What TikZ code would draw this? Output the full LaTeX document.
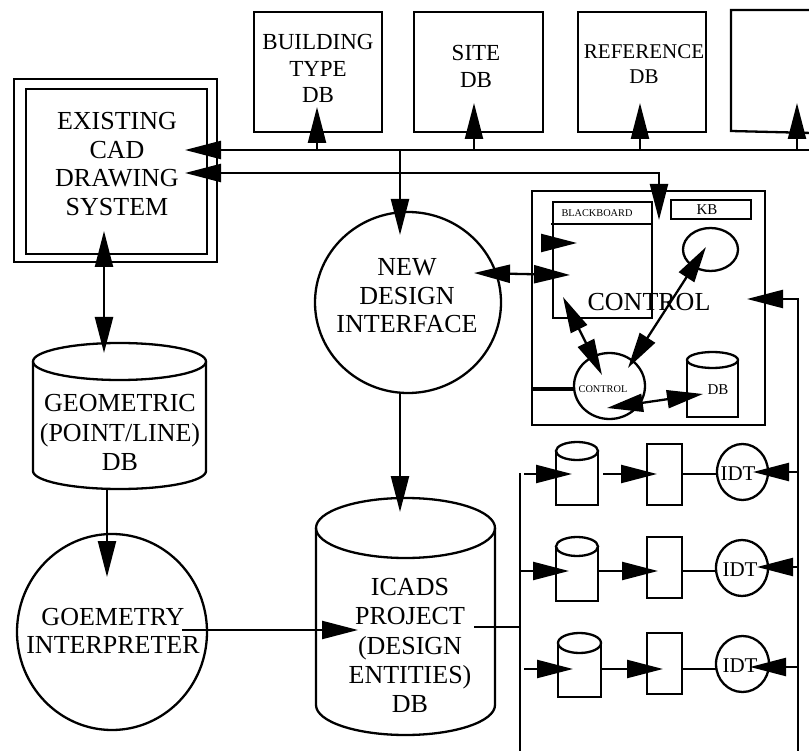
\documentclass[tikz,border=0pt]{standalone}
\usepackage{fontspec}
\setmainfont{Liberation Serif}
\usetikzlibrary{arrows.meta,shapes.geometric}
\newcommand\fsz[2]{\fontsize{#1}{#2}\selectfont}
\begin{document}
\begin{tikzpicture}[x=1pt,y=-1pt,line width=2.3pt,line join=miter,
  >={Triangle[length=36pt,width=18pt]},
  box/.style={draw,rectangle,inner sep=0pt,outer sep=0pt},
  oval/.style={draw,ellipse,inner sep=0pt,outer sep=0pt},
  lbl/.style={align=center,inner sep=0pt},
  bigf/.style={font=\fsz{26}{28.5}},
  midf/.style={font=\fsz{23}{26.7}},
  smlf/.style={font=\fsz{15}{17}},
  tinyf/.style={font=\fsz{10.3}{12}}]
\useasboundingbox (0,0) rectangle (809,751);

% ---------- top databases ----------
\node[box,minimum width=128pt,minimum height=120pt] (btdb) at (318,72) {};
\node[lbl,midf] (btdbT) at (318,68.5) {BUILDING\\TYPE\\DB};
\node[box,minimum width=129pt,minimum height=120pt] (sdb) at (478.5,72) {};
\node[lbl,midf] (sdbT) at (476,66.5) {SITE\\DB};
\node[box,minimum width=128pt,minimum height=120pt] (rdb) at (642,72) {};
\node[lbl,font=\fsz{21}{24.3}] (rdbT) at (644,64) {REFERENCE\\DB};
\draw (812,10) -- (731,10) -- (731,131) -- (812,133);

% ---------- existing CAD ----------
\node[box,minimum width=203pt,minimum height=183pt] (cadO) at (115.5,170.5) {};
\node[box,minimum width=181pt,minimum height=165pt] (cadI) at (116.5,171.5) {};
\node[lbl,bigf] (cadT) at (117,164) {EXISTING\\CAD\\DRAWING\\SYSTEM};

% ---------- buses ----------
\coordinate (busR) at (812,150);
\coordinate (busL) at (185,150);
\draw[->] (busR) -- (busL);
\coordinate (tb) at (317,107);
\coordinate (ts) at (474,103);
\coordinate (tr) at (640,103);
\coordinate (t4) at (797,103);
\draw[->] (tb |- busL) -- (tb);
\draw[->] (ts |- busL) -- (ts);
\draw[->] (tr |- busL) -- (tr);
\draw[->] (t4 |- busL) -- (t4);
\coordinate (b2L) at (185,173);
\coordinate (b2R) at (659,173);
\coordinate (b2T) at (659,220);
\draw[<->] (b2L) -- (b2R) -- (b2T);

% ---------- new design interface ----------
\node[oval,minimum width=186pt,minimum height=181pt] (ndi) at (408,302.5) {};
\node[lbl,bigf] (ndiT) at (407,296) {NEW\\DESIGN\\INTERFACE};
\coordinate (ndiIn) at (400,235);
\draw[->] (ndiIn |- busL) -- (ndiIn);

% ---------- control box ----------
\node[box,minimum width=233pt,minimum height=234pt] (ctl) at (648.5,308) {};
\node[lbl,bigf] (ctlT) at (649,302) {CONTROL};
\node[box,minimum width=99pt,minimum height=116pt] (bb) at (602.5,260) {};
\draw (551,224) -- (652,224);
\node[lbl,tinyf] (bbT) at (597,213) {BLACKBOARD};
\node[box,minimum width=80pt,minimum height=19pt] (kb) at (711,209.5) {};
\node[lbl,smlf] (kbT) at (707,209.5) {KB};
\node[oval,minimum width=55pt,minimum height=43pt] (kbc) at (710.5,249.5) {};
\node[oval,minimum width=71pt,minimum height=66pt] (cc) at (609.5,386) {};
\node[lbl,tinyf] (ccT) at (603,389) {CONTROL};
% control db cylinder
\draw (687,360) -- (687,417) -- (738,417) -- (738,360);
\draw (712.5,360) ellipse [x radius=25.5pt,y radius=8pt];
\node[lbl,smlf] (cdbT) at (718,390) {DB};

\coordinate (bbIn) at (577,243);
\coordinate (bbInS) at (542,243);
\draw[->] (bbInS) -- (bbIn);
\coordinate (ndiR) at (474,273);
\coordinate (bbL) at (570,275);
\draw[<->] (ndiR) -- (bbL);
\coordinate (bbB) at (563,297);
\coordinate (ccT1) at (602,375);
\draw[<->] (bbB) -- (ccT1);
\coordinate (kbcP) at (706,247);
\coordinate (ccT2) at (628,368);
\draw[<->] (kbcP) -- (ccT2);
\coordinate (ccB) at (607,408);
\coordinate (cdbP) at (703,394);
\draw[<->] (ccB) -- (cdbP);
\coordinate (ctlL) at (532,389);
\coordinate (ccL) at (574,389);
\draw[line width=4.5pt] (ctlL) -- (ccL);

% right vertical line
\coordinate (rvB) at (798,751);
\coordinate (rvT) at (798,299);
\coordinate (ctlIn) at (747,299);
\draw[->] (rvB) -- (rvT) -- (ctlIn);

% ---------- IDT rows ----------
\coordinate (lvT) at (520,473);
\coordinate (lvB) at (520,751);
\draw (lvT) -- (lvB);

% row 1
\draw (556,451) -- (556,505) -- (598,505) -- (598,451);
\draw (577,451) ellipse [x radius=21pt,y radius=9pt];
\node[box,minimum width=35pt,minimum height=61pt] (r1) at (664.5,474.5) {};
\node[oval,minimum width=51pt,minimum height=56pt] (i1) at (742.5,472) {};
\node[lbl,font=\fsz{21}{24}] (i1T) at (738,474) {IDT};
\coordinate (a1s) at (524,474); \coordinate (a1e) at (572,474);
\draw[->] (a1s) -- (a1e);
\coordinate (b1s) at (603,474); \coordinate (b1e) at (657,474);
\draw[->] (b1s) -- (b1e);
\draw (r1.east |- i1T) -- (i1.west |- i1T);
\coordinate (c1e) at (753,472);
\draw[->] (rvB |- c1e) -- (c1e);

% row 2
\draw (556,546.5) -- (556,601) -- (598,601) -- (598,546.5);
\draw (577,546.5) ellipse [x radius=21pt,y radius=9.5pt];
\node[box,minimum width=35pt,minimum height=61pt] (r2) at (664.5,567.5) {};
\node[oval,minimum width=52pt,minimum height=56pt] (i2) at (742,568) {};
\node[lbl,font=\fsz{21}{24}] (i2T) at (740,570) {IDT};
\coordinate (a2e) at (569,571);
\draw[->] (lvT |- a2e) -- (a2e);
\coordinate (b2s) at (598,571); \coordinate (b2e) at (658,571);
\draw[->] (b2s) -- (b2e);
\draw (r2.east |- b2e) -- (i2.west |- b2e);
\coordinate (c2e) at (757,567);
\draw[->] (rvB |- c2e) -- (c2e);

% row 3
\draw (558,643) -- (558,697) -- (601,697) -- (601,643);
\draw (579.5,643) ellipse [x radius=21.5pt,y radius=10pt];
\node[box,minimum width=35pt,minimum height=61pt] (r3) at (664.5,663.5) {};
\node[oval,minimum width=53pt,minimum height=56pt] (i3) at (742.5,664) {};
\node[lbl,font=\fsz{21}{24}] (i3T) at (740,666) {IDT};
\coordinate (a3s) at (524,669); \coordinate (a3e) at (573,669);
\draw[->] (a3s) -- (a3e);
\coordinate (b3s) at (601,669); \coordinate (b3e) at (663,669);
\draw[->] (b3s) -- (b3e);
\draw (r3.east |- b3e) -- (i3.west |- b3e);
\coordinate (c3e) at (750,667);
\draw[->] (rvB |- c3e) -- (c3e);

% ---------- geometric DB ----------
\draw (119.5,361.5) ellipse [x radius=86.5pt,y radius=18.5pt];
\draw (33,361.5) -- (33,471) .. controls (33,480.94) and (71.72,489) .. (119.5,489)
      .. controls (167.28,489) and (206,480.94) .. (206,471) -- (206,361.5);
\node[lbl,bigf,font=\fsz{26}{29.5}] (gdbT) at (120,432.5) {GEOMETRIC\\(POINT/LINE)\\DB};
\coordinate (cadB) at (104,231);
\coordinate (gdbTop) at (104,353);
\draw[<->] (cadB) -- (gdbTop);

% ---------- geometry interpreter ----------
\node[oval,minimum width=190pt,minimum height=196pt] (gi) at (112,632) {};
\node[lbl,font=\fsz{26}{28}] (giT) at (113,631) {GOEMETRY\\INTERPRETER};
\coordinate (gdbB) at (107,489);
\coordinate (giIn) at (107,577);
\draw[->] (gdbB) -- (giIn);

% ---------- ICADS project DB ----------
\draw (405.5,528) ellipse [x radius=89.5pt,y radius=30pt];
\draw (316,528) -- (316,705) .. controls (316,721.57) and (356.07,735) .. (405.5,735)
      .. controls (454.93,735) and (495,721.57) .. (495,705) -- (495,528);
\node[lbl,font=\fsz{26}{29.2}] (icT) at (410,645.5) {ICADS\\PROJECT\\(DESIGN\\ENTITIES)\\DB};
\coordinate (giR) at (182,630);
\coordinate (icIn) at (358,630);
\draw[->] (giR) -- (icIn);
\coordinate (ndiB) at (400,393);
\coordinate (icTop) at (400,512);
\draw[->] (ndiB) -- (icTop);
\coordinate (icR) at (474,627);
\draw (icR) -- (lvT |- icR);
\end{tikzpicture}
\end{document}
